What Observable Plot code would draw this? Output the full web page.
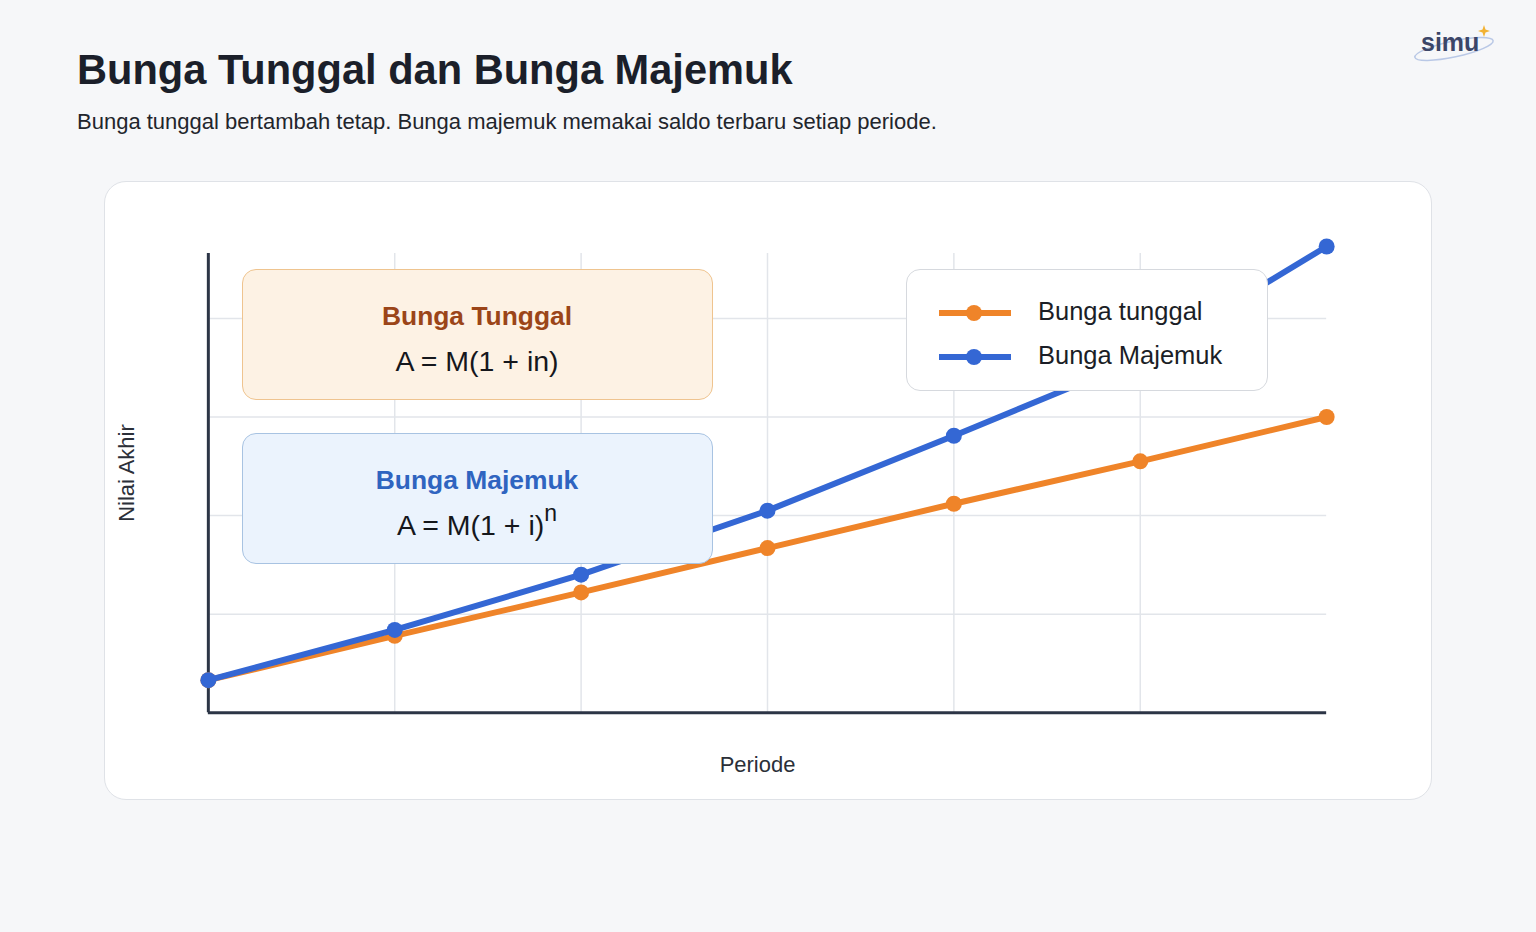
<!DOCTYPE html>
<html><head><meta charset="utf-8">
<script src="https://cdn.jsdelivr.net/npm/d3@7"></script>
<script src="https://cdn.jsdelivr.net/npm/@observablehq/plot@0.6"></script>
<style>
html,body{margin:0;padding:0;background:#f6f7f9;width:1536px;height:932px;overflow:hidden;font-family:"Liberation Sans",Arial,sans-serif;}
#title{position:absolute;left:77px;top:46px;font-size:41.6px;font-weight:bold;color:#1b1f2a;}
#subtitle{position:absolute;left:77px;top:109px;font-size:22px;color:#22252c;}
#card{position:absolute;left:104px;top:181px;width:1326px;height:617px;background:#fff;border:1.5px solid #dfe2e7;border-radius:22px;}
#plot{position:absolute;left:0;top:0;}
.box{position:absolute;border-radius:14px;text-align:center;}
.box .h{font-weight:bold;font-size:26.4px;line-height:30px;}
.box .f{font-size:28.5px;line-height:32px;color:#15171c;}
#legend{position:absolute;left:801px;top:87px;width:360px;height:120px;background:#fff;border:1.5px solid #d6d9de;border-radius:14px;}
.li{position:absolute;left:32px;height:20px;}
.li span{position:absolute;left:99px;top:-6px;font-size:25.5px;color:#1b1e26;white-space:nowrap;}
#logo{position:absolute;left:1410px;top:22px;}
</style></head>
<body>
<div id="title">Bunga Tunggal dan Bunga Majemuk</div>
<div id="subtitle">Bunga tunggal bertambah tetap. Bunga majemuk memakai saldo terbaru setiap periode.</div>
<div id="logo"><svg width="100" height="48">
<ellipse cx="44" cy="27" rx="40" ry="8" transform="rotate(-12 44 27)" fill="none" stroke="#b9c8e6" stroke-width="1.5"/>
<text x="11" y="29" font-family="Liberation Sans,Arial" font-weight="bold" font-size="25" fill="#3c4668">simu</text>
<path d="M74 3 L75.5 7.5 L80 9 L75.5 10.5 L74 15 L72.5 10.5 L68 9 L72.5 7.5 Z" fill="#f2b233"/>
</svg></div>
<div id="card"></div>
<script>
const periods = [0, 1, 2, 3, 4, 5, 6];
const bungaTunggal = [0.33, 0.78, 1.22, 1.67, 2.12, 2.55, 3.0];
const bungaMajemuk = [0.33, 0.84, 1.40, 2.05, 2.81, 3.59, 4.73];
const gridValuesY = [1, 2, 3, 4];
const gridValuesX = [1, 2, 3, 4, 5];
const seriesNames = ["Bunga tunggal", "Bunga Majemuk"];
const colors = ["#ef8429", "#3467d4"];

const tunggal = periods.map((p, i) => ({p, v: bungaTunggal[i]}));
const majemuk = periods.map((p, i) => ({p, v: bungaMajemuk[i]}));

const chart = Plot.plot({
  width: 1328, height: 619,
  marginLeft: 104, marginRight: 104, marginTop: 72, marginBottom: 87,
  x: {domain: [0, 6], axis: null},
  y: {domain: [0, 4.66], axis: null},
  style: {background: "transparent", overflow: "visible"},
  marks: [
    Plot.ruleY(gridValuesY, {x1: 0, x2: 6, stroke: "#e2e5ea", strokeWidth: 1.5}),
    Plot.ruleX(gridValuesX, {y1: 0, y2: 4.66, stroke: "#e2e5ea", strokeWidth: 1.5}),
    Plot.ruleY([0], {x1: 0, x2: 6, stroke: "#2c3546", strokeWidth: 3}),
    Plot.ruleX([0], {y1: 0, y2: 4.66, stroke: "#2c3546", strokeWidth: 3}),
    Plot.line(tunggal, {x: "p", y: "v", stroke: colors[0], strokeWidth: 6}),
    Plot.dot(tunggal, {x: "p", y: "v", fill: colors[0], r: 8}),
    Plot.line(majemuk, {x: "p", y: "v", stroke: colors[1], strokeWidth: 6}),
    Plot.dot(majemuk, {x: "p", y: "v", fill: colors[1], r: 8}),
    Plot.text(["Periode"], {frameAnchor: "bottom", textAnchor: "middle", lineAnchor: "middle", dy: 52, dx: -10, fontSize: 22, fill: "#2b2f38"}),
    Plot.text(["Nilai Akhir"], {frameAnchor: "left", textAnchor: "middle", lineAnchor: "middle", dx: -82, dy: -10, rotate: -90, fontSize: 22, fill: "#2b2f38"})
  ]
});
chart.id = "plot";
chart.style.fontFamily = '"Liberation Sans", Arial, sans-serif';
const card = document.getElementById("card");
card.appendChild(chart);
chart.style.position = "absolute"; chart.style.left = "-1.5px"; chart.style.top = "-1.5px";

function box(top, bg, border, headColor, head, formulaHtml) {
  const d = document.createElement("div");
  d.className = "box";
  Object.assign(d.style, {left: "136.5px", top: top + "px", width: "469px", height: "129px", background: bg, border: "1.5px solid " + border});
  d.innerHTML = `<div class="h" style="color:${headColor};margin-top:31px">${head}</div><div class="f" style="margin-top:14px">${formulaHtml}</div>`;
  card.appendChild(d);
}
box(86.5, "#fdf2e4", "#efc48f", "#9b4518", "Bunga Tunggal", "A = M(1 + in)");
box(250.5, "#ebf3fd", "#a8c3e2", "#2f64c0", "Bunga Majemuk", 'A = M(1 + i)<sup style="font-size:23px;line-height:0;position:relative;top:-3px">n</sup>');

const lg = document.createElement("div");
lg.id = "legend";
lg.innerHTML = seriesNames.map((n, i) => `<div class="li" style="top:${33 + i * 44}px"><svg width="76" height="20" style="position:absolute;left:0;top:0"><line x1="0" y1="10" x2="72" y2="10" stroke="${colors[i]}" stroke-width="6"/><circle cx="35" cy="10" r="8" fill="${colors[i]}"/></svg><span>${n}</span></div>`).join("");
card.appendChild(lg);
</script>
</body></html>
